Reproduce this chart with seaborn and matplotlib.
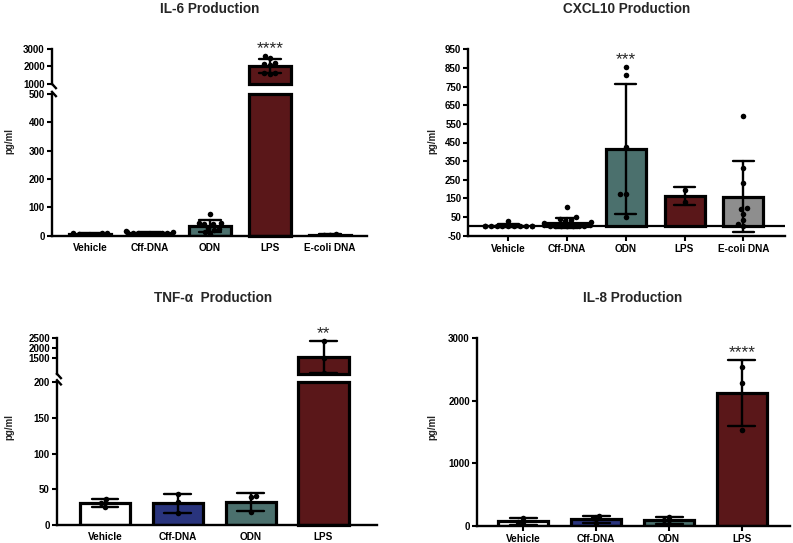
import numpy as np
import pandas as pd
import matplotlib
matplotlib.use("Agg")
import matplotlib.pyplot as plt
import seaborn as sns

# ---------------- data ----------------
groups5 = ["Vehicle", "Cff-DNA", "ODN", "LPS", "E-coli DNA"]
groups4 = ["Vehicle", "Cff-DNA", "ODN", "LPS"]

il6_vehicle = [10, 9, 7, 3, 2, 4, 10]
il6_cff = [14, 18, 12, 10, 8, 6, 4, 3, 8, 10]
il6_odn = [76, 45, 44, 42, 40, 28, 25, 20, 12, 5]
il6_lps = [2586, 2460, 2200, 2150, 2050, 1650, 1560, 1640]
il6_ecoli = [3, 5, 4]

cxcl10_vehicle = [0, 0, 0, 0, 0, 0, 0, 0, 0, 0, 2, 30]
cxcl10_cff = [102, 48, 38, 32, 28, 22, 20, 10, 5, 2, 0, 0, 0, 0, 0, 0]
cxcl10_odn = [855, 814, 428, 172, 172, 49]
cxcl10_lps = [196, 130]
cxcl10_ecoli = [594, 312, 231, 100, 93, 65, 34, 11, 0]

tnf_vehicle = [36, 25.7, 31.3]
tnf_cff = [43, 32.7, 16.4]
tnf_odn = [40.6, 38.8, 17.8]
tnf_lps = [2350, 1530, 820]

il8_vehicle = [125, 25, 55]
il8_cff = [150, 45, 120]
il8_odn = [140, 30, 85]
il8_lps = [2545, 2290, 1532]

il6_ticks_low = [0, 100, 200, 300, 400, 500]
il6_ticks_high = [1000, 2000, 3000]
cxcl10_ticks = [-50, 50, 150, 250, 350, 450, 550, 650, 750, 850, 950]
tnf_ticks_low = [0, 50, 100, 150, 200]
tnf_ticks_high = [1500, 2000, 2500]
il8_ticks = [0, 1000, 2000, 3000]

stars = {"IL-6": ("LPS", "****"), "CXCL10": ("ODN", "***"),
         "TNF": ("LPS", "**"), "IL-8": ("LPS", "****")}

palette = {"Vehicle": "#ffffff", "Cff-DNA": "#29347d", "ODN": "#4b706d",
           "LPS": "#5a1719", "E-coli DNA": "#8e8e8e"}

# ---------------- style ----------------
sns.set_style("ticks")
plt.rcParams["font.family"] = ["Liberation Sans", "DejaVu Sans"]
plt.rcParams["font.weight"] = "bold"
plt.rcParams["axes.labelweight"] = "bold"

W, H = 793, 543
fig = plt.figure(figsize=(W / 100, H / 100), dpi=100)


def add_ax(l, t, r, b):
    return fig.add_axes([l / W, 1 - b / H, (r - l) / W, (b - t) / H])


def make_df(groups, lists):
    rows = []
    for g, vals in zip(groups, lists):
        for v in vals:
            rows.append((g, v))
    return pd.DataFrame(rows, columns=["group", "value"])


def draw(ax, df, groups, ylim, yticks, xlim, width, capsize, part, xticks_len):
    sns.barplot(data=df, x="group", y="value", hue="group", order=groups,
                hue_order=groups, palette=palette, errorbar="sd",
                capsize=capsize, width=width, edgecolor="black", linewidth=2.3,
                err_kws={"color": "black", "linewidth": 1.7}, legend=False,
                saturation=1, ax=ax)
    for p in ax.patches:
        top = p.get_y() + p.get_height()
        if part == "upper":
            if top <= ylim[0]:
                p.set_visible(False)
            else:
                p.set_y(ylim[0])
                p.set_height(top - ylim[0])
                p.set_clip_on(False)
        elif part == "lower" and top > ylim[1]:
            p.set_height(ylim[1] - p.get_y())
            p.set_clip_on(False)
    sub = df[(df["value"] >= ylim[0]) & (df["value"] <= ylim[1])]
    sns.swarmplot(data=sub, x="group", y="value", order=groups, color="black",
                  size=4.0, ax=ax, zorder=5)
    ax.set_ylim(ylim)
    ax.set_xlim(xlim)
    ax.set_yticks(yticks)
    ax.set_yticklabels([str(t) for t in yticks])
    ax.set_xlabel("")
    ax.set_ylabel("")
    for s in ["top", "right"]:
        ax.spines[s].set_visible(False)
    for s in ["left", "bottom"]:
        ax.spines[s].set_linewidth(1.7)
        ax.spines[s].set_color("black")
    ax.tick_params(axis="y", length=3.5, width=1.5, labelsize=7, pad=1.5, colors="black")
    ax.tick_params(axis="x", length=xticks_len, width=1.5, labelsize=7.2,
                   pad=5 - xticks_len * 0.7, colors="black")
    if part == "upper":
        ax.spines["bottom"].set_visible(False)
        ax.tick_params(axis="x", bottom=False, labelbottom=False)
    ax.set_facecolor("none")


def break_mark(ax, where):
    bb = ax.get_window_extent()
    dx = 5 / bb.width
    dy = 5 / bb.height
    y0 = 0 if where == "bottom" else 1
    if where == "bottom":
        xs, ys = [-0.1 * dx, dx], [y0 + 0.2 * dy, y0 - dy]
    else:
        xs, ys = [-0.1 * dx, dx], [y0 + 0.6 * dy, y0 - 0.6 * dy]
    ax.plot(xs, ys, transform=ax.transAxes, color="black", lw=1.7,
            clip_on=False, solid_capstyle="butt")


def star(ax, df, key):
    g, txt = stars[key]
    vals = df[df["group"] == g]["value"]
    top = max(vals.mean() + vals.std(), vals.max())
    ax.annotate(txt, xy=(list(df["group"].unique()).index(g), top),
                xytext=(0, 0), textcoords="offset points", ha="center",
                va="bottom", fontsize=12.5, fontweight="normal",
                annotation_clip=False)


def ylab(x, y):
    fig.text(x / W, 1 - y / H, "pg/ml", rotation=90, ha="center", va="center",
             fontsize=7, fontweight="bold")


def title(x, y, txt):
    fig.text(x / W, 1 - y / H, txt, ha="center", va="center", fontsize=9.8,
             fontweight="bold")


# ---------------- IL-6 (broken axis) ----------------
df_il6 = make_df(groups5, [il6_vehicle, il6_cff, il6_odn, il6_lps, il6_ecoli])
xl = (-0.64, 4.62)
ax_u = add_ax(51.7, 48.7, 367, 84)
ax_l = add_ax(51.7, 94, 367, 235.7)
draw(ax_u, df_il6, groups5, (1000, 3000), il6_ticks_high, xl, 0.7, 0.36, "upper", 0)
draw(ax_l, df_il6, groups5, (0, 500), il6_ticks_low, xl, 0.7, 0.36, "lower", 0)
break_mark(ax_u, "bottom")
break_mark(ax_l, "top")
star(ax_u, df_il6, "IL-6")
title(210, 9, "IL-6 Production")
ylab(9, 141)

# ---------------- CXCL10 ----------------
df_cx = make_df(groups5, [cxcl10_vehicle, cxcl10_cff, cxcl10_odn, cxcl10_lps, cxcl10_ecoli])
ax_c = add_ax(468.3, 49.3, 785, 235.7)
draw(ax_c, df_cx, groups5, (-50, 950), cxcl10_ticks, (-0.68, 4.71), 0.68, 0.36, "single", 3.5)
ax_c.axhline(0, color="black", lw=1.6, zorder=0.5)
star(ax_c, df_cx, "CXCL10")
title(627, 9, "CXCL10 Production")
ylab(432, 141)

# ---------------- TNF-a (broken axis) ----------------
df_tnf = make_df(groups4, [tnf_vehicle, tnf_cff, tnf_odn, tnf_lps])
xl = (-0.663, 3.73)
ax_tu = add_ax(56.7, 337.7, 376.7, 374)
ax_tl = add_ax(56.7, 382.3, 376.7, 525)
draw(ax_tu, df_tnf, groups4, (750, 2500), tnf_ticks_high, xl, 0.69, 0.37, "upper", 0)
draw(ax_tl, df_tnf, groups4, (0, 200), tnf_ticks_low, xl, 0.69, 0.37, "lower", 0)
break_mark(ax_tu, "bottom")
break_mark(ax_tl, "top")
star(ax_tu, df_tnf, "TNF")
title(213, 298, "TNF-\u03b1  Production")
ylab(9, 427)

# ---------------- IL-8 ----------------
df_il8 = make_df(groups4, [il8_vehicle, il8_cff, il8_odn, il8_lps])
ax_8 = add_ax(476.7, 338.3, 790, 525.7)
draw(ax_8, df_il8, groups4, (0, 3000), il8_ticks, (-0.64, 3.66), 0.69, 0.37, "single", 3.5)
star(ax_8, df_il8, "IL-8")
title(633, 298, "IL-8 Production")
ylab(432, 427)

fig.savefig("out.png", dpi=100, facecolor="white")
